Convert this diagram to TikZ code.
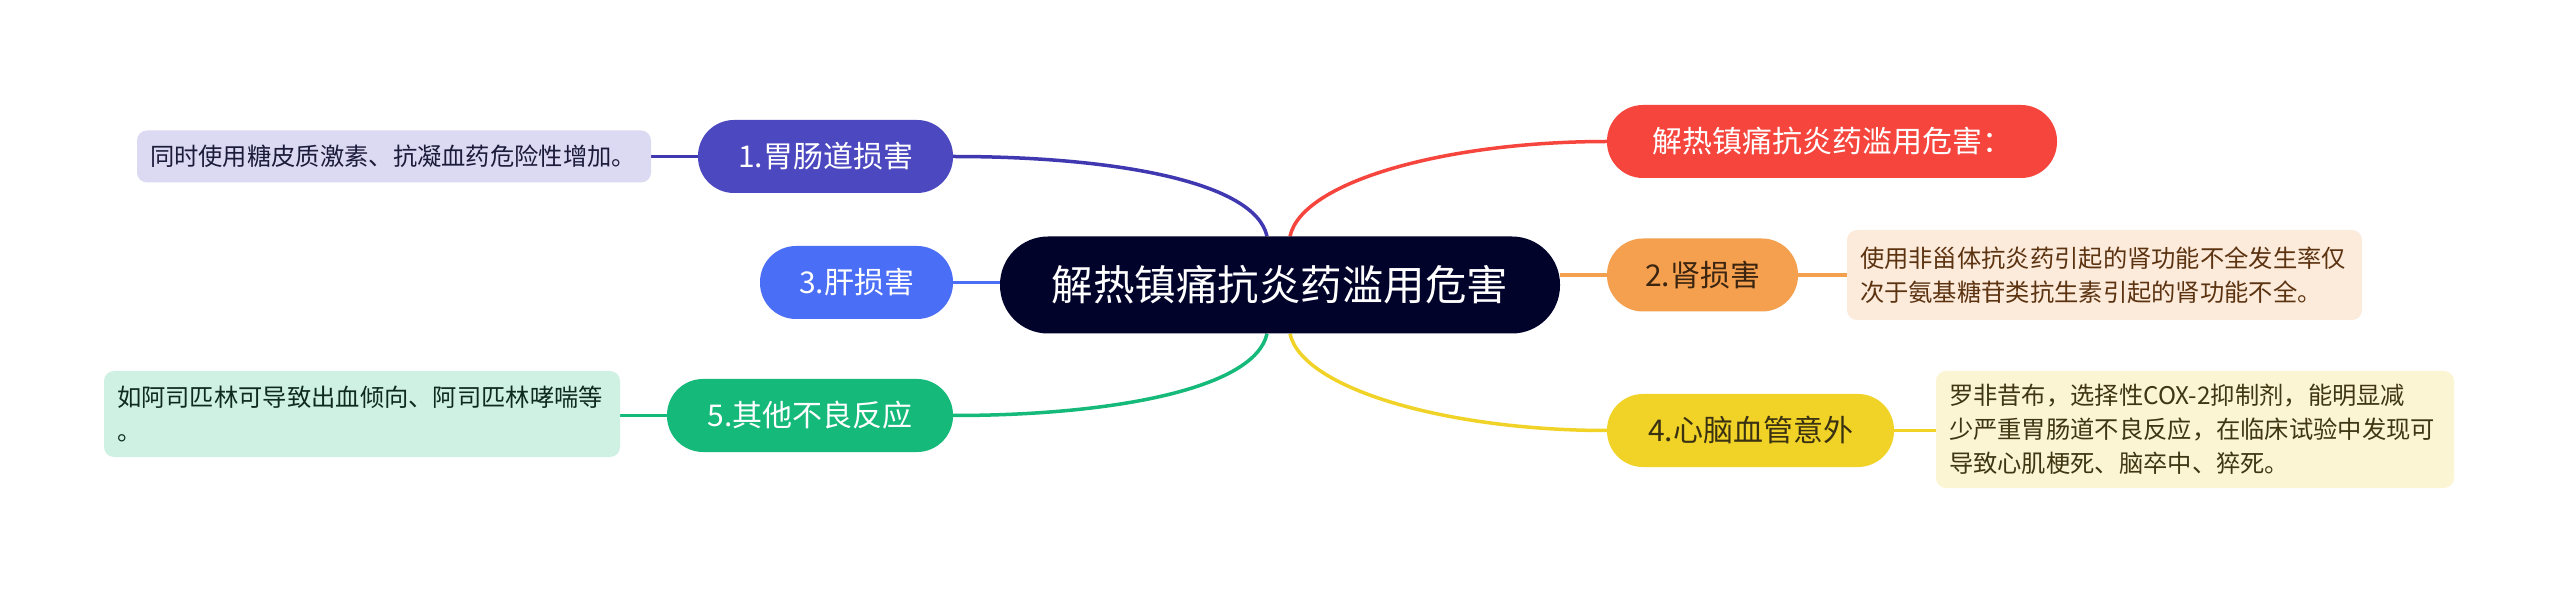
\documentclass[tikz,border=0pt]{standalone}
\usepackage{fontspec}
\setmainfont{Noto Sans CJK SC}
\usetikzlibrary{calc,backgrounds}
\definecolor{rootc}{HTML}{02032B}
\definecolor{indigoc}{HTML}{4C48C0}
\definecolor{indigol}{HTML}{4038B0}
\definecolor{bluec}{HTML}{4A6EF5}
\definecolor{greenc}{HTML}{15B97A}
\definecolor{redc}{HTML}{F5453D}
\definecolor{orangec}{HTML}{F4A04F}
\definecolor{yellowc}{HTML}{F1D327}
\definecolor{leafa}{HTML}{DCDAF2}
\definecolor{leafb}{HTML}{FCEBDB}
\definecolor{leafd}{HTML}{FCF5D3}
\definecolor{leafe}{HTML}{CFF1E3}
\definecolor{txta}{HTML}{1B1B3A}
\definecolor{txtb}{HTML}{5C3311}
\definecolor{txtd}{HTML}{3F3614}
\definecolor{txte}{HTML}{0F2A1F}
\definecolor{txtn2}{HTML}{3B2510}
\definecolor{txtn4}{HTML}{3A3112}
\begin{document}
\begin{tikzpicture}[x=1pt,y=1pt,
  pill/.style={rectangle, rounded corners=36pt, minimum height=73pt, inner sep=0pt, font=\fontsize{30}{36}\selectfont},
  rootbox/.style={rectangle, rounded corners=48pt, minimum width=560pt, minimum height=97pt, inner sep=0pt, fill=rootc, text=white, font=\fontsize{41.5}{48}\selectfont},
  leafbox/.style={rectangle, rounded corners=10pt, inner xsep=13pt, inner ysep=0pt, align=left, font=\fontsize{24.3}{34}\selectfont},
  conn/.style={line width=3.5pt}]
\useasboundingbox (0,0) rectangle (2560,595);

\node[rootbox] (root) at (1280,310) {解热镇痛抗炎药滥用危害};

\node[pill, fill=indigoc, text=white, minimum width=255pt] (n1) at (825.5,438.5) {1.胃肠道损害};
\node[pill, fill=bluec, text=white, minimum width=193pt] (n3) at (856.5,312.5) {3.肝损害};
\node[pill, fill=greenc, text=white, minimum width=286pt] (n5) at (810,179.5) {5.其他不良反应};
\node[pill, fill=redc, text=white, minimum width=450pt] (n0) at (1832,453.5) {解热镇痛抗炎药滥用危害：};
\node[pill, fill=orangec, text=txtn2, minimum width=191pt] (n2) at (1702.5,320) {2.肾损害};
\node[pill, fill=yellowc, text=txtn4, minimum width=287pt] (n4) at (1750.5,164.5) {4.心脑血管意外};

\node[leafbox, fill=leafa, text=txta, text width=488pt, minimum height=52pt] (l1) at (394,438.5) {同时使用糖皮质激素、抗凝血药危险性增加。};
\node[leafbox, fill=leafb, text=txtb, text width=489pt, minimum height=90pt] (l2) at (2104.5,320) {使用非甾体抗炎药引起的肾功能不全发生率仅\\次于氨基糖苷类抗生素引起的肾功能不全。};
\node[leafbox, fill=leafd, text=txtd, text width=492pt, minimum height=117pt] (l4) at (2195,165.5) {罗非昔布，选择性COX-2抑制剂，能明显减\\少严重胃肠道不良反应，在临床试验中发现可\\导致心肌梗死、脑卒中、猝死。};
\node[leafbox, fill=leafe, text=txte, text width=490pt, minimum height=86pt] (l5) at (362,181) {如阿司匹林可导致出血倾向、阿司匹林哮喘等\\。};

\begin{scope}[on background layer]
\fill[white] (0,0) rectangle (2560,595);
\draw[conn, indigol] ($(root.north)+(-13,0)$) .. controls ($(root.north)+(-25,55)$) and ($(n1.east)+(160,0)$) .. (n1.east);
\draw[conn, redc] ($(root.north)+(10,0)$) .. controls ($(root.north)+(22,55)$) and ($(n0.west)+(-160,0)$) .. (n0.west);
\draw[conn, greenc] ($(root.south)+(-13,0)$) .. controls ($(root.south)+(-25,-55)$) and ($(n5.east)+(160,0)$) .. (n5.east);
\draw[conn, yellowc] ($(root.south)+(10,0)$) .. controls ($(root.south)+(22,-55)$) and ($(n4.west)+(-160,0)$) .. (n4.west);
\draw[conn, bluec] (n3.east) -- (n3.east -| root.west);
\draw[conn, orangec] (root.east |- n2.west) -- (n2.west);
\draw[conn, indigol] (n1.west) -- (n1.west -| l1.east);
\draw[conn, greenc] (n5.west) -- (n5.west -| l5.east);
\draw[conn, orangec] (n2.east) -- (n2.east -| l2.west);
\draw[conn, yellowc] (n4.east) -- (n4.east -| l4.west);
\end{scope}
\end{tikzpicture}
\end{document}
